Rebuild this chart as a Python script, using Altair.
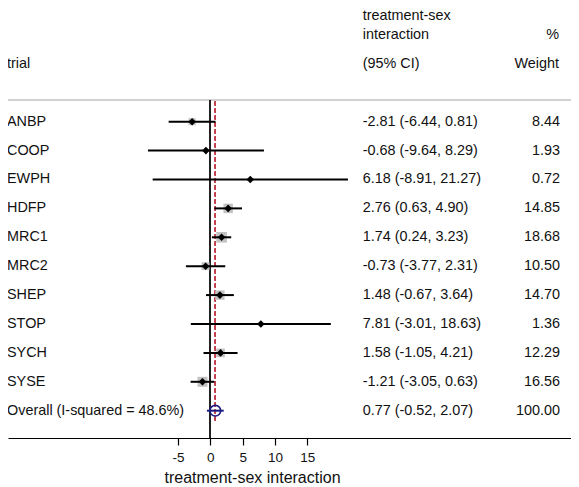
import altair as alt
import pandas as pd

# ---- data ----
trials = ["ANBP", "COOP", "EWPH", "HDFP", "MRC1", "MRC2", "SHEP", "STOP", "SYCH", "SYSE"]
estimate = [-2.81, -0.68, 6.18, 2.76, 1.74, -0.73, 1.48, 7.81, 1.58, -1.21]
ci_low = [-6.44, -9.64, -8.91, 0.63, 0.24, -3.77, -0.67, -3.01, -1.05, -3.05]
ci_high = [0.81, 8.29, 21.27, 4.90, 3.23, 2.31, 3.64, 18.63, 4.21, 0.63]
weights = [8.44, 1.93, 0.72, 14.85, 18.68, 10.50, 14.70, 1.36, 12.29, 16.56]

overall_label = "Overall (I-squared = 48.6%)"
overall_est, overall_low, overall_high, overall_weight = 0.77, -0.52, 2.07, 100.00

x_ticks = [-5, 0, 5, 10, 15]
x_title = "treatment-sex interaction"
header_left = ["trial"]
header_mid = ["treatment-sex", "interaction", "(95% CI)"]
header_right = ["%", "Weight"]

# ---- tables ----
studies = pd.DataFrame({
    "trial": trials, "est": estimate, "lo": ci_low, "hi": ci_high, "w": weights,
})
studies["row"] = range(1, len(trials) + 1)
studies["ci_txt"] = [f"{e:.2f} ({l:.2f}, {h:.2f})" for e, l, h in zip(estimate, ci_low, ci_high)]
studies["w_txt"] = [f"{w:.2f}" for w in weights]

ov_row = len(trials) + 1
overall = pd.DataFrame({
    "trial": [overall_label], "est": [overall_est], "lo": [overall_low], "hi": [overall_high],
    "row": [ov_row],
    "ci_txt": [f"{overall_est:.2f} ({overall_low:.2f}, {overall_high:.2f})"],
    "w_txt": [f"{overall_weight:.2f}"],
})
labels = pd.concat([studies[["trial", "row", "ci_txt", "w_txt"]],
                    overall[["trial", "row", "ci_txt", "w_txt"]]], ignore_index=True)

mid_rows = [-2.64, -2, -1]
hdr_mid = pd.DataFrame({"txt": header_mid, "row": mid_rows})
hdr_left = pd.DataFrame({"txt": header_left, "row": [-1]})
hdr_right = pd.DataFrame({"txt": header_right, "row": [-2, -1]})

W, H = 563, 430
FONT = "Liberation Sans"
FS = 14.4

xs = alt.Scale(domain=[-31.27, 55.75], nice=False, zero=False)
ys = alt.Scale(domain=[-2.934, 11.945], nice=False, zero=False, reverse=True)
xaxis = alt.Axis(values=x_ticks, title=x_title, grid=False, domainColor="#000",
                 domainWidth=1.2, tickColor="#000", tickWidth=1.2, tickSize=7,
                 labelPadding=5, labelFontSize=13.5, labelFont=FONT, labelColor="#111",
                 labelExpr="'' + datum.value",
                 titleFont=FONT, titleFontSize=16, titleFontWeight="normal",
                 titleColor="#111", titlePadding=6, titleX=244, titleAlign="center",
                 labelFlush=False)


def X(field=None, datum=None):
    if datum is not None:
        return alt.X(datum=datum, type="quantitative", scale=xs, axis=xaxis)
    return alt.X(field, type="quantitative", scale=xs, axis=xaxis)


def Y(field=None, datum=None):
    if datum is not None:
        return alt.Y(datum=datum, type="quantitative", scale=ys, axis=None)
    return alt.Y(field, type="quantitative", scale=ys, axis=None)


sep = alt.Chart(studies).mark_rule(color="#d2d2d2", strokeWidth=1.6).encode(
    x=alt.value(0), x2=alt.value(W), y=Y(datum=0.25)
)
zero_line = alt.Chart(studies).mark_rule(color="#222", strokeWidth=1.3).encode(
    x=X(datum=0), y=Y(datum=0.25), y2=alt.Y2(datum=11.945)
)
ov_line = alt.Chart(studies).mark_rule(color="#c2404f", strokeWidth=1.2, strokeDash=[4, 3]).encode(
    x=X(datum=overall_est), y=Y(datum=0.3), y2=alt.Y2(datum=11.43)
)
boxes = alt.Chart(studies).mark_point(shape="square", filled=True, color="#c2c2c2", opacity=1).encode(
    x=X("est"), y=Y("row"),
    size=alt.Size("w:Q", scale=alt.Scale(domain=[0, 20], range=[0, 120]), legend=None),
)
ci = alt.Chart(studies).mark_rule(color="#000", strokeWidth=2).encode(
    x=X("lo"), x2="hi", y=Y("row")
)
pts = alt.Chart(studies).mark_point(shape="diamond", filled=True, color="#000", size=58, opacity=1).encode(
    x=X("est"), y=Y("row")
)
ov_ci = alt.Chart(overall).mark_rule(color="#1a1a80", strokeWidth=2).encode(
    x=X("lo"), x2="hi", y=Y("row")
)
ov_pt = alt.Chart(overall).mark_point(shape="circle", filled=False, color="#1a1a80",
                                      size=115, strokeWidth=1.6, opacity=1).encode(
    x=X("est"), y=Y("row")
)

txt = dict(font=FONT, fontSize=FS, color="#111", baseline="middle")
lab = alt.Chart(labels).mark_text(align="left", dx=-1, **txt).encode(
    x=alt.value(0), y=Y("row"), text="trial:N"
)
ci_t = alt.Chart(labels).mark_text(align="left", **txt).encode(
    x=alt.value(354.7), y=Y("row"), text="ci_txt:N"
)
w_t = alt.Chart(labels).mark_text(align="right", **txt).encode(
    x=alt.value(552), y=Y("row"), text="w_txt:N"
)
h_l = alt.Chart(hdr_left).mark_text(align="left", dx=-1, **txt).encode(
    x=alt.value(0), y=Y("row"), text="txt:N"
)
h_m = alt.Chart(hdr_mid).mark_text(align="left", **txt).encode(
    x=alt.value(354.7), y=Y("row"), text="txt:N"
)
h_r = alt.Chart(hdr_right).mark_text(align="right", **txt).encode(
    x=alt.value(551), y=Y("row"), text="txt:N"
)

chart = alt.layer(
    sep, zero_line, ov_line, boxes, ci, pts, ov_ci, ov_pt, lab, ci_t, w_t, h_l, h_m, h_r
).properties(
    width=W, height=H,
    autosize=alt.AutoSizeParams(type="none"),
    padding={"left": 0, "top": 0, "right": 0, "bottom": 50},
    background="white",
).configure_view(stroke=None)

chart.save("out.html", embed_options={"renderer": "svg", "actions": False})
